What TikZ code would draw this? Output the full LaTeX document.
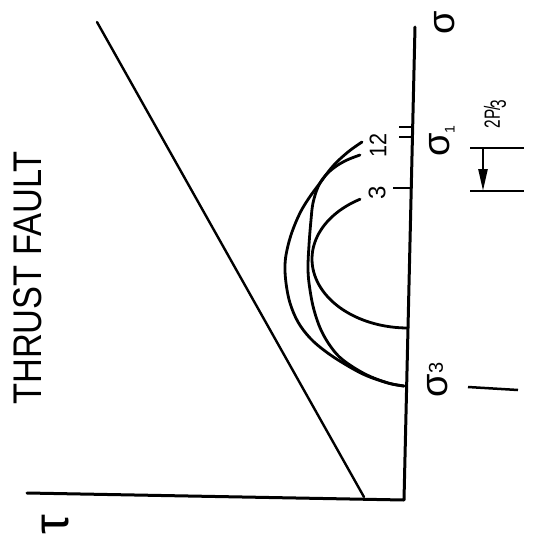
\documentclass[tikz,border=0pt]{standalone}
\usepackage{fontspec}
\setmainfont{Liberation Sans}
\usetikzlibrary{arrows.meta}
\begin{document}
\begin{tikzpicture}[x=1pt,y=-1pt,
  axisline/.style={line width=3pt,line join=round,line cap=round},
  mohr/.style={line width=2.8pt,line cap=round},
  envline/.style={line width=2.4pt,line cap=round},
  tick/.style={line width=2.5pt},
  dimline/.style={line width=2.5pt},
  lbl/.style={inner sep=0pt,rotate=90},
]
\fill[white] (0,0) rectangle (540,550);
\useasboundingbox (0,0) rectangle (540,550);

% axes
\coordinate (stop) at (415,27);
\coordinate (o) at (404,500);
\coordinate (tend) at (27,493);
\draw[axisline] (stop) -- (o) -- (tend);

% failure envelope
\coordinate (e1) at (97,22);
\coordinate (e2) at (364,497);
\draw[envline] (e1) -- (e2);

% Mohr circles
\draw[mohr] plot[smooth,tension=0.6] coordinates {(362,142) (348,152) (333,166) (320,183) (309,198) (300,213) (292,232) (287,250) (285,265) (286,283) (290,303) (298,322) (310,338) (325,351) (343,363) (365,375) (388,383) (404,386)};
\draw[mohr] plot[smooth,tension=0.6] coordinates {(360,155) (347,160) (335,167) (325,176) (318,187) (313,203) (311,220) (309,245) (308,270) (310,290) (314,310) (321,330) (331,347) (343,360) (365,374) (388,383) (404,386)};
\draw[mohr] plot[domain=120:270,samples=60,smooth] ({408+96*cos(\x)},{259-69*sin(\x)});

% ticks on sigma axis
\coordinate (t1a) at (393,188); \coordinate (t1b) at (412,188);
\coordinate (t2a) at (399,127); \coordinate (t2b) at (413,127);
\coordinate (t3a) at (399,137); \coordinate (t3b) at (413,137);
\draw[tick] (t1a) -- (t1b);
\draw[tick] (t2a) -- (t2b);
\draw[tick] (t3a) -- (t3b);

% dimension 2P/3
\coordinate (d1a) at (470,148); \coordinate (d1b) at (524,148);
\coordinate (d2a) at (470,191); \coordinate (d2b) at (524,191);
\coordinate (da) at (483,148); \coordinate (db) at (483,191);
\draw[dimline] (d1a) -- (d1b);
\draw[dimline] (d2a) -- (d2b);
\draw[dimline,-{Triangle[length=22pt,width=9pt]}] (da) -- (db);

% line beside sigma3
\coordinate (s3a) at (468,387); \coordinate (s3b) at (518,390);
\draw[dimline] (s3a) -- (s3b);

% labels
\node[lbl,font=\fontsize{40}{40}\selectfont] (title) at (28,278) {\scalebox{0.86}[1]{THRUST FAULT}};
\node[lbl,font=\fontsize{50}{50}\selectfont] (tau) at (56,525) {τ};
\node[lbl,font=\fontsize{38}{38}\selectfont] (sig) at (445,23) {σ};
\node[lbl,font=\fontsize{38}{38}\selectfont] (sig1) at (442,141) {σ\raisebox{-0.25ex}{\fontsize{14}{14}\selectfont 1}};
\node[lbl,font=\fontsize{38}{38}\selectfont] (sig3) at (438,380) {σ\raisebox{0.25ex}{\fontsize{20}{20}\selectfont 3}};
\node[lbl,font=\fontsize{24}{24}\selectfont] (c3) at (377,193) {3};
\node[lbl,font=\fontsize{24}{24}\selectfont] (c12) at (378,145) {\scalebox{0.9}[1]{12}};
\node[lbl,font=\fontsize{22}{22}\selectfont] (pp) at (495,114) {\scalebox{0.7}[1]{2P\kern-2pt/\kern-3pt\raisebox{-6pt}{3}}};
\end{tikzpicture}
\end{document}
